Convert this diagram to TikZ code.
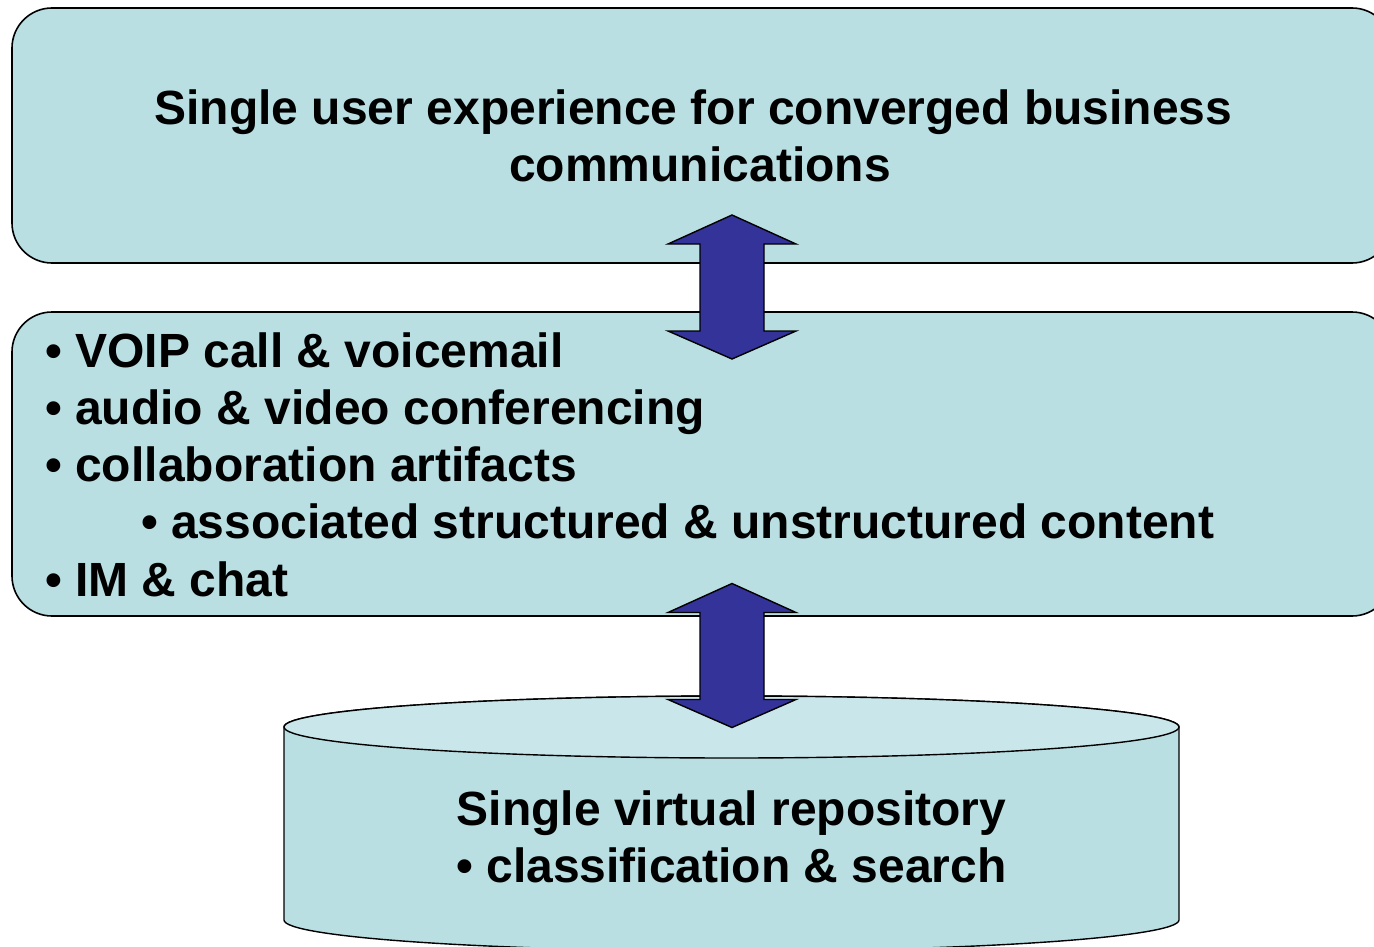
\documentclass[tikz,border=0pt]{standalone}
\usepackage{fontspec}
\setmainfont{Liberation Sans}
\definecolor{boxfill}{HTML}{B9DFE3}
\definecolor{toplid}{HTML}{C9E6EA}
\definecolor{arrowfill}{HTML}{333399}
\tikzset{
  panel/.style={draw=black, line width=1.6pt, fill=boxfill, rounded corners=40pt},
  cyl/.style={draw=black, line width=1.4pt, fill=boxfill},
  lid/.style={draw=black, line width=1.4pt, fill=toplid},
  txt/.style={inner sep=0pt, font=\fontsize{48}{57.5}\selectfont\bfseries},
  arrowstyle/.style={draw=black, line width=1.4pt, fill=arrowfill, line join=miter},
  dblarrow/.pic={
    \draw[arrowstyle] (0,-72) -- (64,-43) -- (32,-43) -- (32,44) -- (64,44) -- (0,72)
      -- (-64,44) -- (-32,44) -- (-32,-43) -- (-64,-43) -- cycle;
  }
}
\begin{document}
\begin{tikzpicture}[x=1pt,y=-1pt]
\useasboundingbox (0,0) rectangle (1374,947);
\clip (0,0) rectangle (1374,947);
% top panel
\draw[panel] (12,8) rectangle (1392,263);
\node[txt, anchor=base] (t1) at (693.5,125) {Single user experience for converged business};
\node[txt, anchor=base] (t2) at (700,182) {communications};
% middle panel
\draw[panel] (12,312) rectangle (1392,616);
\node[txt, anchor=base west] (m1) at (45,367) {• VOIP call \& voicemail};
\node[txt, anchor=base west] (m2) at (45,424.25) {• audio \& video conferencing};
\node[txt, anchor=base west] (m3) at (45,481.5) {• collaboration artifacts};
\node[txt, anchor=base west] (m4) at (141,538.75) {• associated structured \& unstructured content};
\node[txt, anchor=base west] (m5) at (45,596) {• IM \& chat};
% cylinder
\draw[cyl] (284,727) -- (284,920) arc[start angle=180, end angle=0, x radius=447.5, y radius=31]
  -- (1179,727) arc[start angle=0, end angle=-180, x radius=447.5, y radius=31] -- cycle;
\draw[lid] (731.5,727) ellipse[x radius=447.5, y radius=31];
\node[txt, anchor=base] (b1) at (731.5,825) {Single virtual repository};
\node[txt, anchor=base] (b2) at (731.5,882) {• classification \& search};
% arrows
\pic at (732,287) {dblarrow};
\pic at (732,655.5) {dblarrow};
\end{tikzpicture}
\end{document}
